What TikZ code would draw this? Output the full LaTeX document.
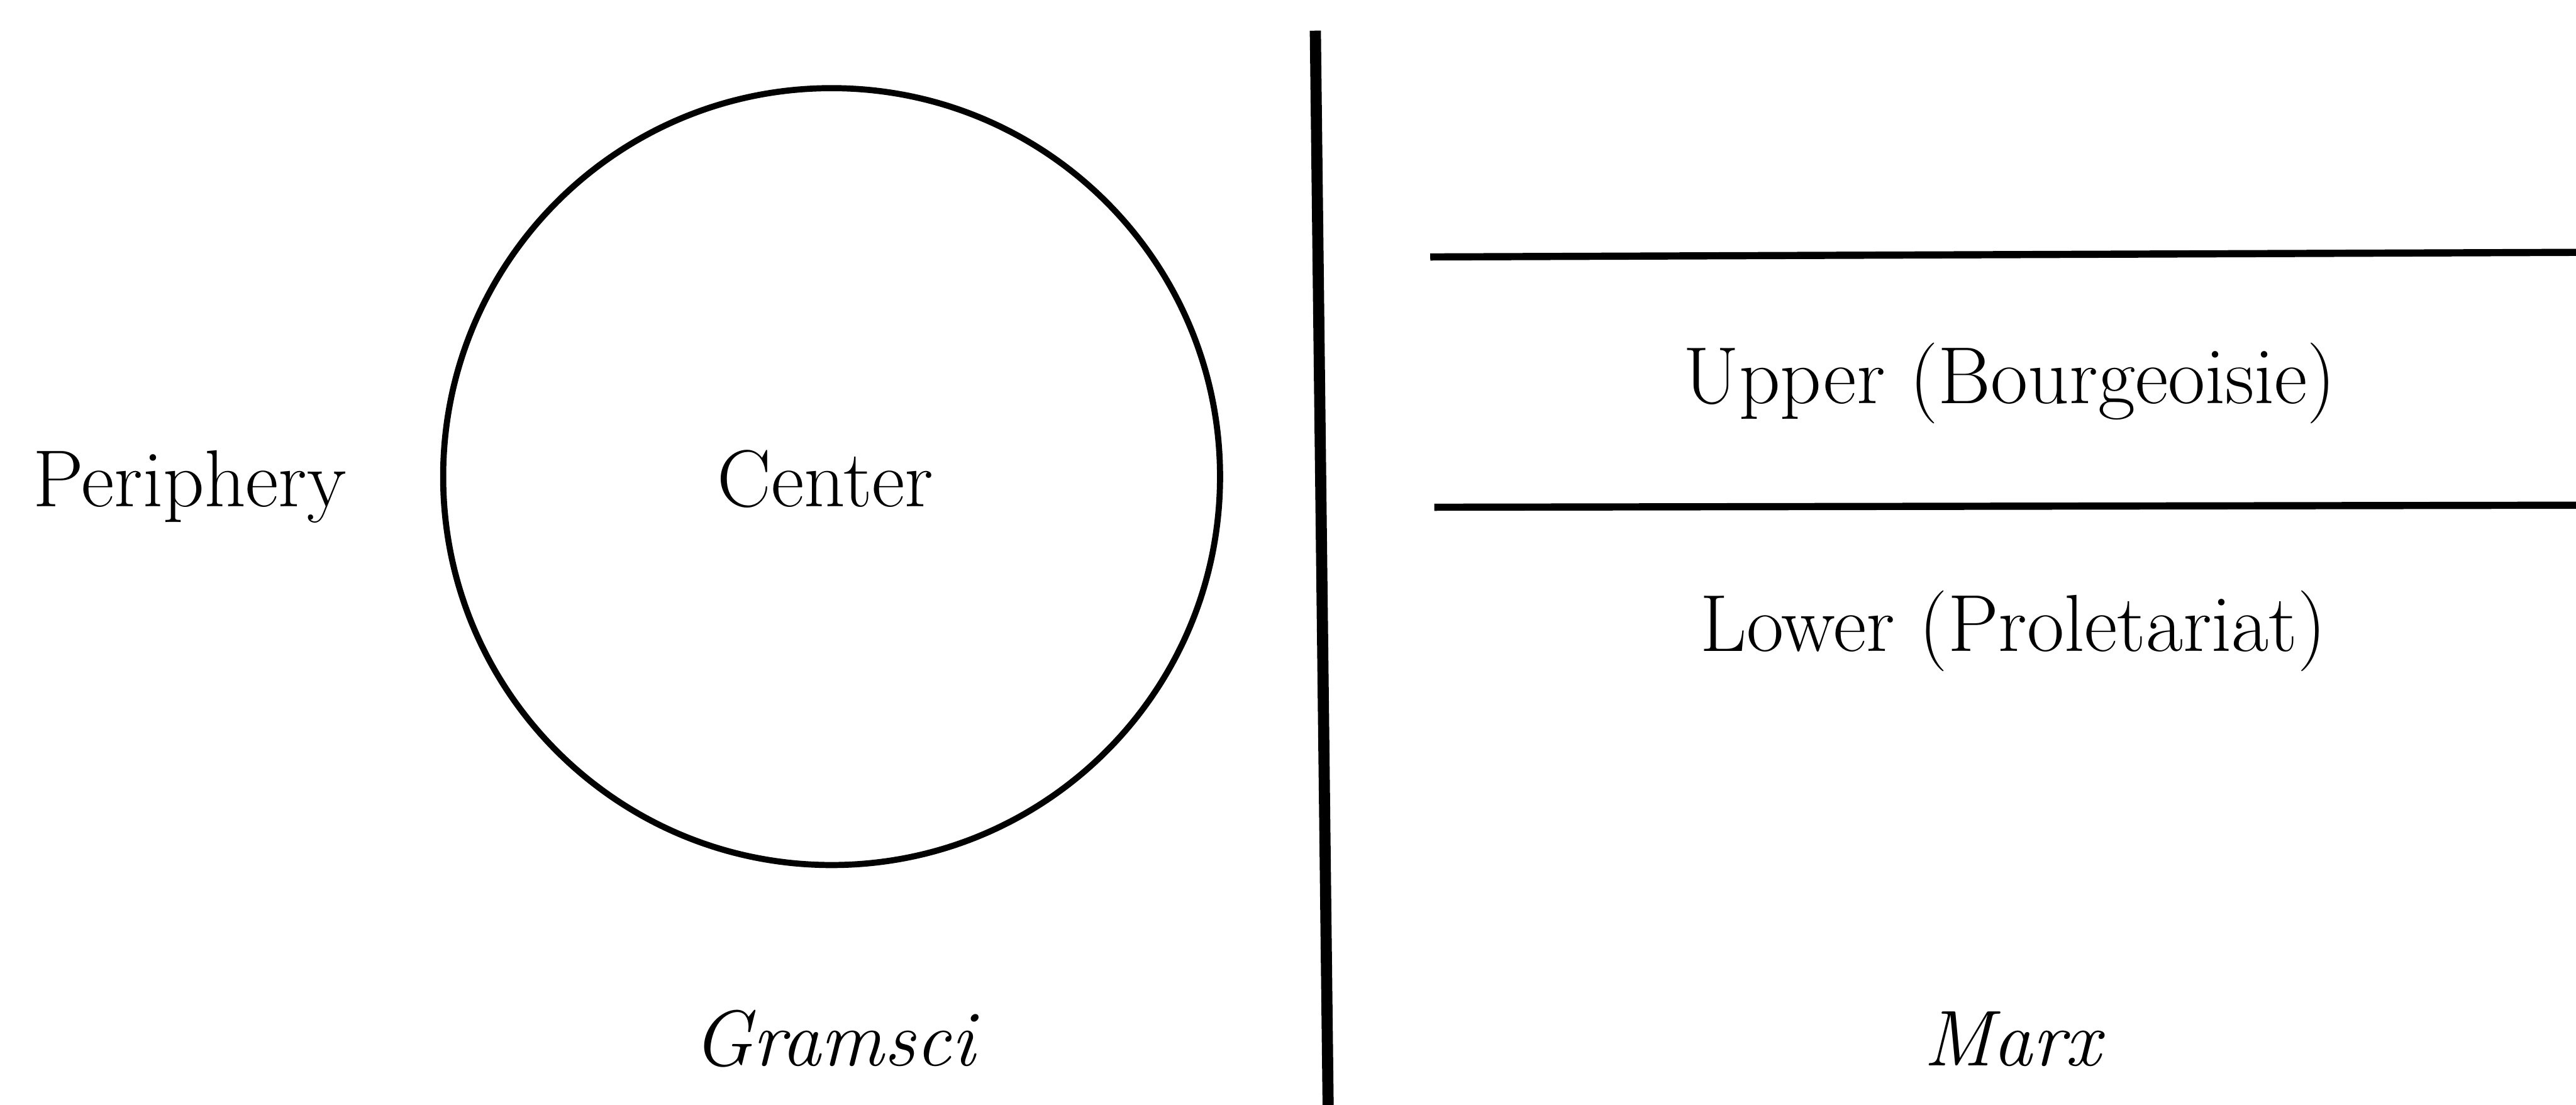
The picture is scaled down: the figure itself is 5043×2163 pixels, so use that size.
\documentclass[tikz,border=0pt]{standalone}
\begin{document}
\begin{tikzpicture}[x=0.01cm,y=-0.01cm,
  lbl/.style={anchor=base,inner sep=0pt,font=\fontsize{45}{52}\selectfont},
  ilbl/.style={anchor=base,inner sep=0pt,font=\fontsize{44}{52}\selectfont\itshape},
  ring/.style={draw,circle,inner sep=0pt,minimum size=15.2cm,line width=3.4pt},
  divider/.style={line width=6.2pt},
  rule/.style={line width=4pt}]
\useasboundingbox (0,0) rectangle (5043,2163);
% left panel
\node[ring] (ring) at (1628,933) {};
\node[lbl] (periph) at (371,992) {Periphery};
\node[lbl] (center) at (1616,992) {Center};
\node[ilbl] (gramsci) at (1632,2086) {Gramsci};
% divider
\coordinate (vtop) at (2575,60);
\coordinate (vbot) at (2600,2163);
\draw[divider] (vtop) -- (vbot);
% right panel
\coordinate (h1l) at (2800,503);
\coordinate (h1r) at (5043,494);
\coordinate (h2l) at (2808,993);
\coordinate (h2r) at (5043,989);
\draw[rule] (h1l) -- (h1r);
\draw[rule] (h2l) -- (h2r);
\node[lbl] (upper) at (3934,790) {Upper (Bourgeoisie)};
\node[lbl] (lower) at (3941,1275) {Lower (Proletariat)};
\node[ilbl] (marx) at (3939,2086) {Marx};
\end{tikzpicture}
\end{document}
